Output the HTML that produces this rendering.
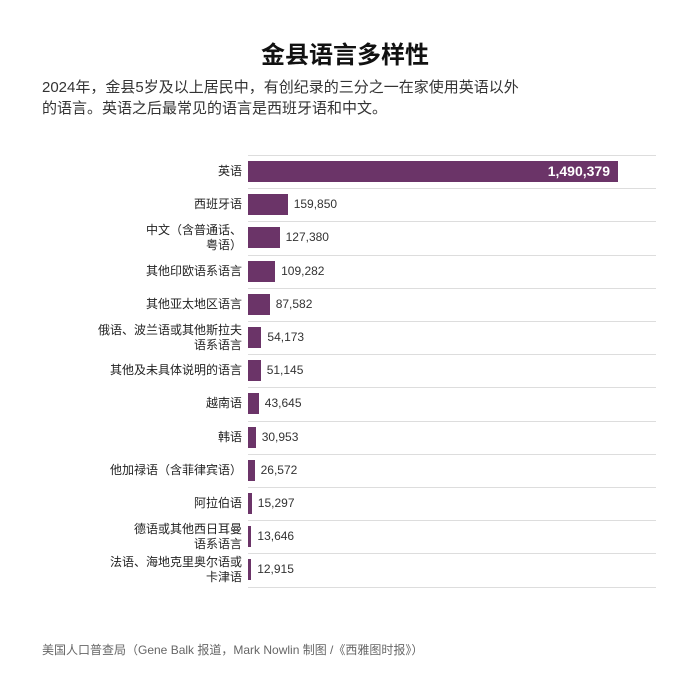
<!DOCTYPE html>
<html><head><meta charset="utf-8"><style>
body{margin:0;width:690px;height:699px;background:#fff;position:relative;font-family:"Liberation Sans","Noto Sans CJK SC",sans-serif;color:#222;overflow:hidden}
.t{position:absolute;left:0;width:690px;top:35px;text-align:center;font-size:24px;font-weight:bold;color:#111}
.s{position:absolute;left:42px;top:77px;width:488px;font-size:15px;line-height:21px;color:#333}
.ln{position:absolute;left:248px;width:408px;height:1px;background:#ddd}
.lb{position:absolute;right:448px;font-size:12px;line-height:15px;text-align:right;color:#222}
.b{position:absolute;left:248px;height:21px;background:#6b3468}
.v{position:absolute;font-size:12px;line-height:21px;color:#333}
.f{position:absolute;left:42px;top:641px;font-size:12px;color:#666}
</style></head><body>
<div class="t">金县语言多样性</div>
<div class="s">2024年，金县5岁及以上居民中，有创纪录的三分之一在家使用英语以外<br>的语言。英语之后最常见的语言是西班牙语和中文。</div>
<div id="c"></div>
<div class="f">美国人口普查局（Gene Balk 报道，Mark Nowlin 制图 /《西雅图时报》）</div>
<script>
var d=[["英语",1490379],["西班牙语",159850],["中文（含普通话、<br>粤语）",127380],["其他印欧语系语言",109282],["其他亚太地区语言",87582],["俄语、波兰语或其他斯拉夫<br>语系语言",54173],["其他及未具体说明的语言",51145],["越南语",43645],["韩语",30953],["他加禄语（含菲律宾语）",26572],["阿拉伯语",15297],["德语或其他西日耳曼<br>语系语言",13646],["法语、海地克里奥尔语或<br>卡津语",12915]];
var h="";for(var i=0;i<=13;i++)h+='<div class="ln" style="top:'+Math.round(155+33.2*i)+'px"></div>';
d.forEach(function(r,i){var y=155+33.2*i;var w=r[1]*370/1490379;var two=r[0].indexOf("<br>")>=0;
h+='<div class="lb" style="top:'+Math.round(y+(two?2:9))+'px">'+r[0]+'</div>';
h+='<div class="b" style="top:'+Math.round(y+6)+'px;width:'+w.toFixed(1)+'px"></div>';
var n=r[1].toLocaleString("en-US");
if(i==0)h+='<div class="v" style="top:'+Math.round(y+6)+'px;left:248px;width:362px;text-align:right;color:#fff;font-weight:bold;font-size:14px">'+n+'</div>';
else h+='<div class="v" style="top:'+Math.round(y+6)+'px;left:'+(248+w+6).toFixed(1)+'px">'+n+'</div>';});
document.getElementById("c").innerHTML=h;
</script>
</body></html>
